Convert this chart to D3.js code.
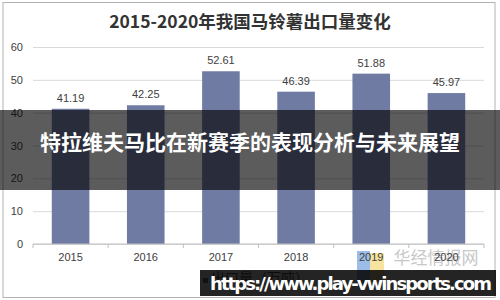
<!DOCTYPE html>
<html>
<head>
<meta charset="utf-8">
<script src="https://cdn.jsdelivr.net/npm/d3@7"></script>
<style>
  body { margin: 0; background: #fff; }
  svg { display: block; }
  text { font-family: "Liberation Sans", Arial, sans-serif; }
</style>
</head>
<body>
<svg id="canvas" width="500" height="300"></svg>
<script>
//chart data
var years = ["2015", "2016", "2017", "2018", "2019", "2020"];
var exportVol = [41.19, 42.25, 52.61, 46.39, 51.88, 45.97];
var yTicks = [0, 10, 20, 30, 40, 50, 60];

var titleText = "2015-2020年我国马铃薯出口量变化";
var legendText = "出口量（万吨）";
var bannerText = "特拉维夫马比在新赛季的表现分析与未来展望";
var urlText = "https://www.play-vwinsports.com";
var sourceText = "华经情报网";

var svg = d3.select("#canvas"),
  width = +svg.attr("width"),
  height = +svg.attr("height");

var cjk = '"Noto Sans CJK SC", "Noto Sans", sans-serif';

//outer frame of the original picture
svg.append("rect")
  .attr("x", 3).attr("y", 2.5)
  .attr("width", 492).attr("height", 295)
  .attr("fill", "none")
  .attr("stroke", "#b3b3b3")
  .attr("stroke-width", 1);

//title
svg.append("text")
  .attr("x", 250).attr("y", 28)
  .attr("text-anchor", "middle")
  .style("font-family", cjk)
  .style("font-weight", "bold")
  .style("font-size", "17.5px")
  .attr("fill", "#333")
  .text(titleText);

//scales
var y = d3.scaleLinear().domain([0, 60]).range([244, 47]);
var x = d3.scaleBand().domain(years).range([33, 484])
  .paddingInner(0.5).paddingOuter(0.25);

//source watermark logo + name, sits behind the year labels
svg.append("rect").attr("x", 357).attr("y", 251).attr("width", 13).attr("height", 32).attr("fill", "#9dbde9");
svg.append("rect").attr("x", 370).attr("y", 253).attr("width", 14).attr("height", 30).attr("fill", "#f6e3a0");
svg.append("text")
  .attr("x", 436).attr("y", 264)
  .attr("text-anchor", "middle")
  .style("font-family", cjk)
  .style("font-size", "17px")
  .attr("fill", "#c8c8c8")
  .text(sourceText);

//gridlines + y labels
var yAxis = svg.append("g")
  .attr("transform", "translate(33,0)")
  .call(d3.axisLeft(y).tickValues(yTicks).tickSize(-451).tickPadding(10));
yAxis.select(".domain").remove();
yAxis.selectAll(".tick line").attr("stroke", "#d9d9d9");
yAxis.selectAll(".tick text")
  .attr("fill", "#404040")
  .style("font-size", "11px");

//bars
svg.append("g").selectAll("rect")
  .data(exportVol)
  .join("rect")
  .attr("x", function(d, i) { return x(years[i]); })
  .attr("y", function(d) { return y(d); })
  .attr("width", x.bandwidth())
  .attr("height", function(d) { return y(0) - y(d); })
  .attr("fill", "#6f7ba3");

//value labels
svg.append("g").selectAll("text")
  .data(exportVol)
  .join("text")
  .attr("x", function(d, i) { return x(years[i]) + x.bandwidth() / 2; })
  .attr("y", function(d) { return y(d) - 7; })
  .attr("text-anchor", "middle")
  .attr("fill", "#404040")
  .style("font-size", "11px")
  .text(function(d) { return d.toFixed(2); });

//x axis line with ticks at category edges
var xAxis = svg.append("g").attr("transform", "translate(0," + y(0) + ")");
xAxis.append("line")
  .attr("x1", 33).attr("x2", 484)
  .attr("stroke", "#bfbfbf");
var edges = d3.range(years.length + 1).map(function(i) { return 33 + i * x.step(); });
xAxis.selectAll(".edge")
  .data(edges)
  .join("line")
  .attr("class", "edge")
  .attr("x1", function(d) { return d; }).attr("x2", function(d) { return d; })
  .attr("y1", 0).attr("y2", 4)
  .attr("stroke", "#bfbfbf");

xAxis.selectAll(".lbl")
  .data(years)
  .join("text")
  .attr("class", "lbl")
  .attr("x", function(d) { return x(d) + x.bandwidth() / 2; })
  .attr("y", 17)
  .attr("text-anchor", "middle")
  .attr("fill", "#404040")
  .style("font-size", "11px")
  .text(function(d) { return d; });

//legend (mostly hidden by the url box)
svg.append("rect").attr("x", 203).attr("y", 278).attr("width", 5).attr("height", 5).attr("fill", "#6f7ba3");
svg.append("text")
  .attr("x", 211).attr("y", 283)
  .style("font-family", cjk)
  .style("font-size", "14px")
  .attr("fill", "#595959")
  .text(legendText);

//dark banner across the middle
svg.append("rect")
  .attr("x", 0).attr("y", 110)
  .attr("width", width).attr("height", 80)
  .attr("fill", "rgba(0,0,0,0.64)");
svg.append("text")
  .attr("x", 250).attr("y", 150)
  .attr("text-anchor", "middle")
  .style("font-family", cjk)
  .style("font-weight", "bold")
  .style("font-size", "21px")
  .attr("fill", "#fff")
  .text(bannerText);

//url box at the bottom right (slightly see-through)
svg.append("rect")
  .attr("x", 200).attr("y", 270)
  .attr("width", 296).attr("height", 26)
  .attr("fill", "rgba(0,0,0,0.86)");
svg.append("text")
  .attr("x", 210).attr("y", 290)
  .attr("textLength", 282)
  .style("font-family", '"DejaVu Sans", sans-serif')
  .style("font-weight", "bold")
  .style("font-size", "18px")
  .attr("fill", "#fff")
  .text(urlText);
</script>
</body>
</html>
